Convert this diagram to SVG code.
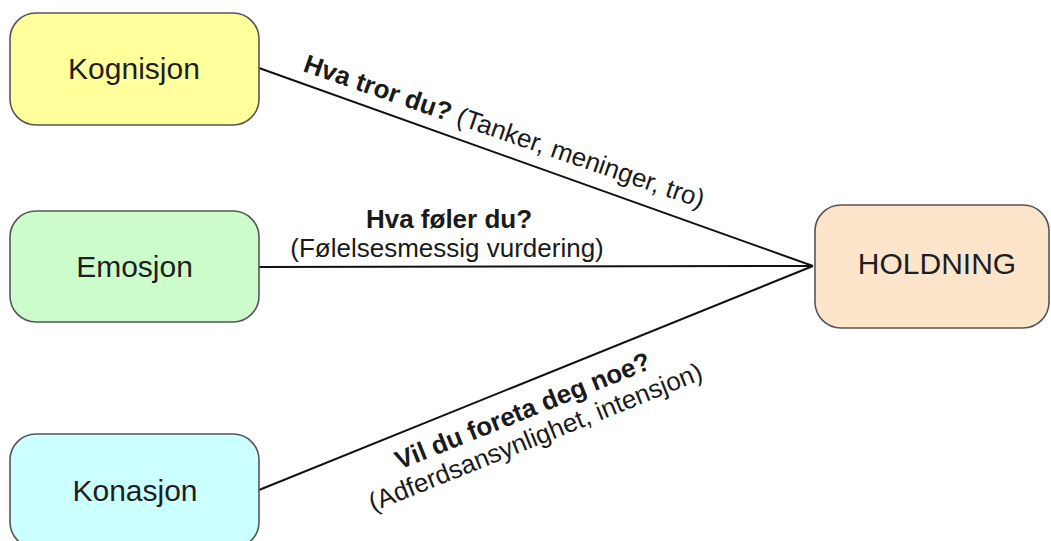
<svg xmlns="http://www.w3.org/2000/svg" width="1051" height="541" viewBox="0 0 1051 541">
<style>
.box{stroke:#555;stroke-width:1.6}
.nt{font-family:"Liberation Sans",Arial,sans-serif;font-size:30px;fill:#1e1e1e;text-anchor:middle}
.lt{font-family:"Liberation Sans",Arial,sans-serif;font-size:26px;fill:#1a1a1a}
.b{font-weight:bold}
.conn{stroke:#111;stroke-width:2;fill:none}
</style>
<rect width="1051" height="541" fill="#fff"/>
<g id="connectors">
<line class="conn" x1="259" y1="68" x2="813" y2="266"/>
<line class="conn" x1="259" y1="267" x2="813" y2="266"/>
<line class="conn" x1="259" y1="490" x2="813" y2="266"/>
</g>
<g id="labels">
<text class="lt" transform="translate(302 71) rotate(19)"><tspan class="b">Hva tror du?</tspan> (Tanker, meninger, tro)</text>
<text class="lt b" x="449" y="228" text-anchor="middle">Hva føler du?</text>
<text class="lt" x="447" y="257" text-anchor="middle">(Følelsesmessig vurdering)</text>
<g transform="translate(526 419) rotate(-21.9)">
<text class="lt b" x="0" y="0" text-anchor="middle">Vil du foreta deg noe?</text>
<text class="lt" x="2" y="29" text-anchor="middle">(Adferdsansynlighet, intensjon)</text>
</g>
</g>
<g id="kognisjon">
<rect class="box" x="10" y="13" width="249" height="112" rx="26" fill="#ffff9c"/>
<text class="nt" x="134" y="79">Kognisjon</text>
</g>
<g id="emosjon">
<rect class="box" x="10" y="211" width="249" height="111" rx="26" fill="#ccfccc"/>
<text class="nt" x="134.5" y="277">Emosjon</text>
</g>
<g id="konasjon">
<rect class="box" x="10" y="434" width="249" height="114" rx="26" fill="#ccffff"/>
<text class="nt" x="135" y="501">Konasjon</text>
</g>
<g id="holdning">
<rect class="box" x="815" y="205" width="234" height="123" rx="26" fill="#fde5cc"/>
<text class="nt" x="937" y="274">HOLDNING</text>
</g>
</svg>
